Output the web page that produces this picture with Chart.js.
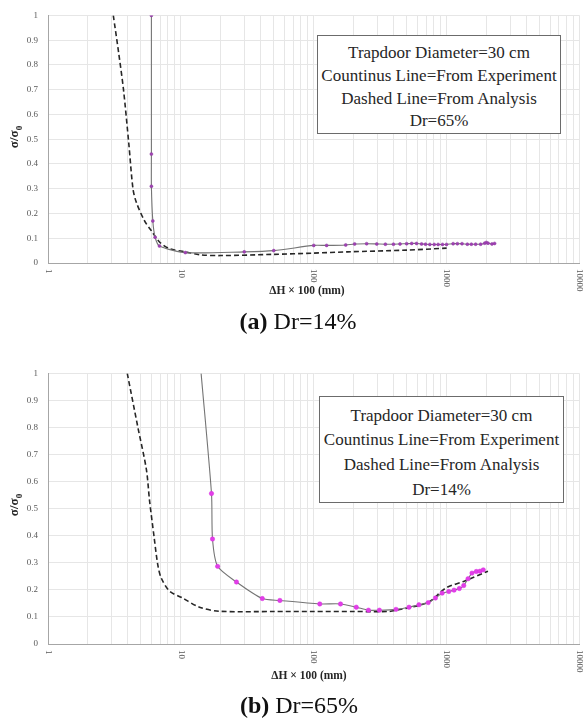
<!DOCTYPE html>
<html>
<head>
<meta charset="utf-8">
<script src="https://cdn.jsdelivr.net/npm/chart.js@4.4.1/dist/chart.umd.min.js"></script>
<style>
  body { margin: 0; background: #fff; font-family: "Liberation Serif", "Times New Roman", serif; }
  #page { position: relative; width: 584px; height: 720px; overflow: hidden; }
  canvas { position: absolute; left: 0; }
  .ytitle { position: absolute; font-weight: bold; font-size: 13px; color: #262626; white-space: nowrap;
            transform: translate(-50%, -50%) rotate(-90deg); }
  .ytitle sub { font-size: 9px; }
  .xtitle { position: absolute; font-weight: bold; font-size: 11.5px; color: #262626; white-space: nowrap;
            transform: translateX(-50%); line-height: 14px; }
  .note { position: absolute; box-sizing: border-box; border: 1px solid #6b6b6b; background: #fff;
          text-align: center; font-size: 17px; color: #262626; white-space: nowrap; }
  .caption { position: absolute; font-size: 24px; line-height: 24px; color: #111; white-space: nowrap;
             transform: translateX(-50%); }
</style>
</head>
<body>
<div id="page">
  <canvas id="chartA" width="584" height="300" style="top:0"></canvas>
  <canvas id="chartB" width="584" height="320" style="top:358px"></canvas>

  <div class="ytitle" style="left:15px; top:137px">σ/σ<sub>0</sub></div>
  <div class="ytitle" style="left:15px; top:505px">σ/σ<sub>0</sub></div>
  <div class="xtitle" style="left:307px; top:283px">ΔH × 100 (mm)</div>
  <div class="xtitle" style="left:309px; top:668px">ΔH × 100 (mm)</div>

  <div class="note" style="left:317px; top:35px; width:244px; height:99px; padding-top:6px; line-height:22.8px">
    Trapdoor Diameter=30 cm<br>Countinus Line=From Experiment<br>Dashed Line=From Analysis<br>Dr=65%
  </div>
  <div class="note" style="left:319px; top:396px; width:245px; height:107px; padding-top:6.6px; line-height:24.7px">
    Trapdoor Diameter=30 cm<br>Countinus Line=From Experiment<br>Dashed Line=From Analysis<br>Dr=14%
  </div>

  <div class="caption" style="left:298px; top:309px"><b>(a)</b> Dr=14%</div>
  <div class="caption" style="left:299px; top:693px"><b>(b)</b> Dr=65%</div>
</div>

<script>
// (a) Dr=14% - experiment (solid with markers) and analysis (dashed)
var aExpX = [6, 6, 6, 6.15, 6.4, 6.9, 10.8, 30, 50, 100, 125, 174, 203, 250, 298, 346, 398, 446, 500, 546,
             594, 648, 694, 748, 806, 863, 931, 998, 1119, 1205, 1306, 1432, 1535, 1653, 1803, 1932, 1990, 2050, 2193, 2296];
var aExpY = [1.0, 0.44, 0.31, 0.17, 0.104, 0.069, 0.042, 0.045, 0.05, 0.071, 0.071, 0.073, 0.077, 0.078, 0.077, 0.076, 0.076, 0.077, 0.078, 0.079,
             0.079, 0.077, 0.076, 0.075, 0.075, 0.075, 0.075, 0.075, 0.078, 0.078, 0.078, 0.076, 0.076, 0.076, 0.076, 0.08, 0.083, 0.08, 0.077, 0.079];
var aAnaX = [3.1, 3.4, 3.7, 4.06, 4.36, 4.62, 5.33, 6.0, 6.9, 8.2, 10.9, 14, 20, 50, 100, 180, 500, 1000];
var aAnaY = [1.0, 0.85, 0.7, 0.48, 0.3, 0.245, 0.17, 0.13, 0.085, 0.058, 0.045, 0.033, 0.03, 0.035, 0.04, 0.045, 0.052, 0.06];

// (b) Dr=65%
var bExpX = [14.2, 17.0, 17.3, 18.9, 26.2, 41, 55.6, 111, 159, 209, 258, 312, 416, 521, 619, 727, 824, 925, 1038,
             1137, 1247, 1345, 1449, 1552, 1672, 1782, 1887];
var bExpY = [1.0, 0.556, 0.388, 0.287, 0.229, 0.168, 0.161, 0.148, 0.148, 0.136, 0.125, 0.125, 0.128, 0.136, 0.145, 0.153, 0.17, 0.188, 0.194,
             0.199, 0.205, 0.216, 0.241, 0.262, 0.268, 0.269, 0.274];
var bAnaX = [3.95, 4.75, 5.5, 5.81, 6.27, 6.7, 7.1, 8.2, 10.3, 13.8, 19.4, 50, 100, 200, 365, 410, 727, 980, 1370, 2047];
var bAnaY = [1.0, 0.80, 0.645, 0.53, 0.40, 0.293, 0.245, 0.196, 0.17, 0.136, 0.121, 0.12, 0.12, 0.12, 0.12, 0.124, 0.154, 0.206, 0.233, 0.269];

var xTickValues = [1, 10, 100, 1000, 10000];
var xTickLabels = ['1', '10', '100', '1000', '10000'];
var yTickLabels = ['0', '0.1', '0.2', '0.3', '0.4', '0.5', '0.6', '0.7', '0.8', '0.9', '1'];

// grid lines at 1..9 of every decade
var xGrid = [];
for (var d = 1; d < 10000; d *= 10) {
    for (var k = 1; k < 10; k++) xGrid.push(k * d);
}
xGrid.push(10000);

function pts(xs, ys) {
    return xs.map(function (x, i) { return { x: x, y: ys[i] }; });
}

// x labels read top-to-bottom, so they are drawn here instead of by the scale
var rotatedXLabels = {
    id: 'rotatedXLabels',
    afterDraw: function (chart, args, opts) {
        var ctx = chart.ctx;
        var xs = chart.scales.x;
        ctx.save();
        ctx.font = '9px "Liberation Serif", serif';
        ctx.fillStyle = '#595959';
        ctx.textAlign = 'left';
        ctx.textBaseline = 'middle';
        xTickValues.forEach(function (v, i) {
            var px = xs.getPixelForValue(v);
            ctx.save();
            ctx.translate(px, chart.chartArea.bottom + opts.gap);
            ctx.rotate(Math.PI / 2);
            ctx.fillText(xTickLabels[i], 0, 0);
            ctx.restore();
        });
        ctx.restore();
    }
};

function makeChart(id, expX, expY, anaX, anaY, marker, xAxisHeight, gap) {
    var radii = expX.map(function () { return marker.radius; });
    if (marker.hideFirst) radii[0] = 0;
    return new Chart(document.getElementById(id), {
        type: 'line',
        data: {
            datasets: [{
                label: 'Experiment',
                data: pts(expX, expY),
                borderColor: '#747474',
                borderWidth: 1.1,
                tension: 0.25,
                pointRadius: radii,
                pointBackgroundColor: marker.fill,
                pointBorderColor: marker.stroke,
                pointBorderWidth: 0.5
            }, {
                label: 'Analysis',
                data: pts(anaX, anaY),
                borderColor: '#262626',
                borderWidth: 1.6,
                borderDash: [5, 3],
                tension: 0.3,
                pointRadius: 0
            }]
        },
        options: {
            responsive: false,
            animation: false,
            layout: { padding: { top: 11, right: 2, left: 0, bottom: 0 } },
            plugins: {
                legend: { display: false },
                tooltip: { enabled: false },
                rotatedXLabels: { gap: gap }
            },
            scales: {
                x: {
                    type: 'logarithmic',
                    min: 1,
                    max: 10000,
                    afterBuildTicks: function (s) {
                        s.ticks = xGrid.map(function (v) { return { value: v }; });
                    },
                    afterFit: function (s) { s.height = xAxisHeight; },
                    ticks: { display: false },
                    grid: { color: '#e6e6e6', lineWidth: 1, drawTicks: false },
                    border: { color: '#a6a6a6', width: 1 }
                },
                y: {
                    min: 0,
                    max: 1,
                    afterFit: function (s) { s.width = 48; },
                    ticks: {
                        stepSize: 0.1,
                        padding: 10,
                        color: '#595959',
                        font: { family: '"Liberation Serif", serif', size: 9 },
                        callback: function (v, i) { return yTickLabels[i]; }
                    },
                    grid: { color: '#e6e6e6', lineWidth: 1, drawTicks: false },
                    border: { color: '#a6a6a6', width: 1 }
                }
            }
        },
        plugins: [rotatedXLabels]
    });
}

makeChart('chartA', aExpX, aExpY, aAnaX, aAnaY,
    { radius: 1.5, fill: '#a040b4', stroke: '#8a3a9c', hideFirst: false }, 37, 6);
makeChart('chartB', bExpX, bExpY, bAnaX, bAnaY,
    { radius: 2.2, fill: '#e23ee8', stroke: '#d82ee0', hideFirst: true }, 34, 6);
</script>
</body>
</html>
